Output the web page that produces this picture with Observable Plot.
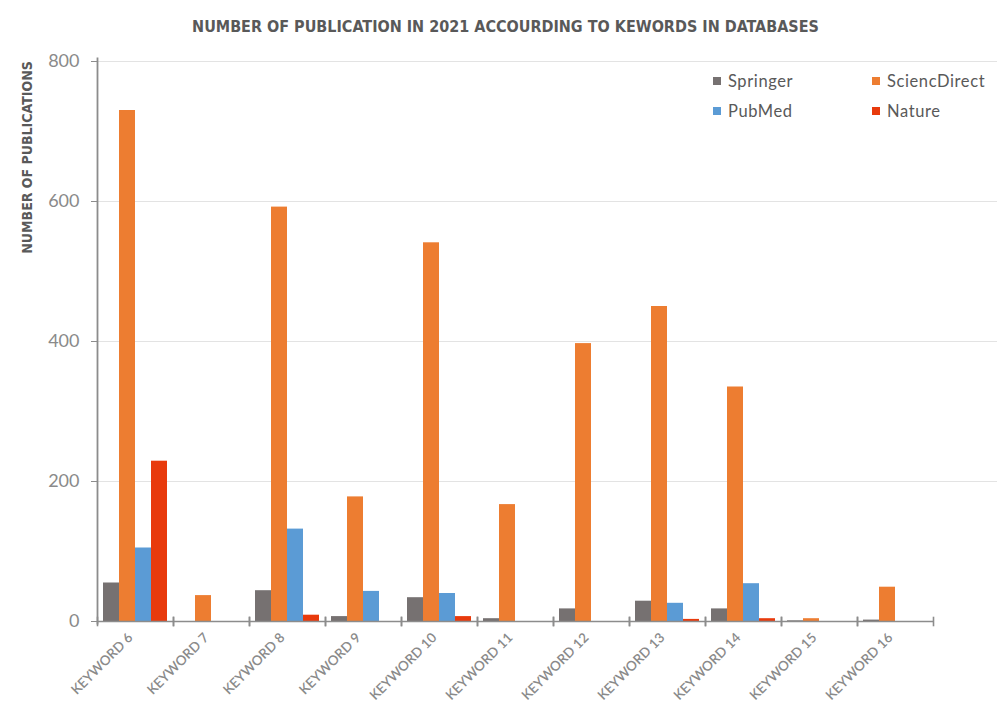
<!DOCTYPE html>
<html>
<head>
<meta charset="utf-8">
<script src="https://cdn.jsdelivr.net/npm/d3@7"></script>
<script src="https://cdn.jsdelivr.net/npm/@observablehq/plot@0.6"></script>
<style>
  html, body { margin: 0; padding: 0; background: #fff; }
  #wrap { position: relative; width: 999px; height: 706px; }
  #legend { position: absolute; left: 713px; top: 72px; display: grid;
    grid-template-columns: 159px 120px; row-gap: 12px;
    font-family: Lato, "Open Sans", sans-serif; font-size: 16.5px; letter-spacing: 0.6px; color: #595959; }
  #legend .item { display: flex; align-items: center; height: 18px; }
  #legend .sw { width: 8px; height: 8px; margin-right: 7px; }
</style>
</head>
<body>
<div id="wrap"></div>
<script>
const keywords = ["KEYWORD 6","KEYWORD 7","KEYWORD 8","KEYWORD 9","KEYWORD 10","KEYWORD 11","KEYWORD 12","KEYWORD 13","KEYWORD 14","KEYWORD 15","KEYWORD 16"];
const series = ["Springer","SciencDirect","PubMed","Nature"];
const colors = ["#767171","#ED7D31","#5B9BD5","#E83A0C"];
const springer      = [55, 0, 44, 7, 34, 4, 18, 29, 18, 1, 2];
const scienceDirect = [730, 37, 592, 178, 541, 167, 397, 450, 335, 4, 49];
const pubmed        = [105, 0, 132, 43, 40, 0, 0, 26, 54, 0, 0];
const nature        = [229, 0, 9, 0, 7, 0, 0, 3, 4, 0, 0];
const yTicks = [0, 200, 400, 600, 800];
const legendOrder = ["Springer","SciencDirect","PubMed","Nature"];
const title = "NUMBER OF PUBLICATION IN 2021 ACCOURDING TO KEWORDS IN DATABASES";
const yLabel = "NUMBER OF PUBLICATIONS";

const valuesBySeries = [springer, scienceDirect, pubmed, nature];
const data = keywords.flatMap((k, i) => series.map((s, j) => ({keyword: k, series: s, value: valuesBySeries[j][i]})));

const axisGray = "#8c8c8c";
const gridGray = "#e3e3e3";
const chart = Plot.plot({
  width: 999,
  height: 706,
  marginLeft: 95,
  marginRight: 0,
  marginTop: 61,
  marginBottom: 85,
  style: {fontFamily: "Lato, 'Open Sans', sans-serif", background: "#fff"},
  fx: {domain: keywords, range: [95, 935], padding: 0, label: null},
  x: {domain: series, paddingInner: 0, paddingOuter: 0.245, axis: null},
  y: {domain: [0, 800], label: null},
  color: {domain: series, range: colors},
  marks: [
    Plot.ruleY(yTicks.slice(1), {stroke: gridGray, strokeWidth: 1.2}),
    Plot.ruleY(yTicks.slice(1), {stroke: gridGray, strokeWidth: 1.2, facetAnchor: "right", insetRight: -64}),
    Plot.barY(data, {fx: "keyword", x: "series", y: "value", fill: "series"}),
    Plot.ruleY([0], {stroke: axisGray, strokeWidth: 1.6}),
    Plot.frame({anchor: "left", stroke: axisGray, strokeWidth: 1.6, insetTop: 556, insetBottom: -4}),
    Plot.frame({anchor: "right", stroke: axisGray, strokeWidth: 1.6, insetTop: 556, insetBottom: -4}),
    Plot.frame({anchor: "left", facetAnchor: "left", stroke: axisGray, strokeWidth: 1.8, insetTop: -3, insetBottom: -2}),
    Plot.axisY({ticks: yTicks, tickSize: 6, tickPadding: 12, fontSize: 18, color: "#8a8a8a", stroke: axisGray, label: null}),
    Plot.axisFx({anchor: "bottom", tickSize: 0, tickPadding: 14, tickRotate: -45, fontSize: 13.5, fontWeight: 600,
      color: "#8a8a8a", label: null, dx: -5, style: {letterSpacing: "0.6px"}}),
    Plot.text([title], {facet: "super", frameAnchor: "top-left", dx: 408, dy: -41, text: d => d,
      fontFamily: "'Liberation Sans Narrow', 'DejaVu Sans Condensed', sans-serif", fontWeight: "bold", fontSize: 16,
      fill: "#595959", textAnchor: "middle", style: "letter-spacing:2.7px"}),
    Plot.text([yLabel], {facet: "super", frameAnchor: "top-left", dx: -75, dy: 96, rotate: -90, text: d => d,
      fontFamily: "'Liberation Sans Narrow', 'DejaVu Sans Condensed', sans-serif", fontWeight: "bold", fontSize: 14,
      fill: "#595959", textAnchor: "middle"})
  ]
});
const wrap = document.getElementById("wrap");
wrap.appendChild(chart);

const legend = document.createElement("div");
legend.id = "legend";
for (const s of legendOrder) {
  const item = document.createElement("div");
  item.className = "item";
  const sw = document.createElement("span");
  sw.className = "sw";
  sw.style.background = colors[series.indexOf(s)];
  item.appendChild(sw);
  item.appendChild(document.createTextNode(s));
  legend.appendChild(item);
}
wrap.appendChild(legend);
</script>
</body>
</html>
